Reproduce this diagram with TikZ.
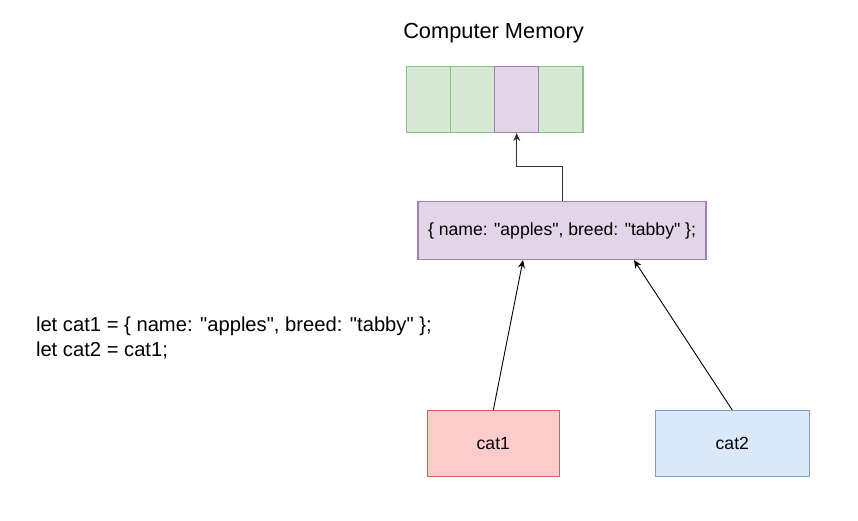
\documentclass[tikz,border=0pt]{standalone}
\usepackage{fontspec}
\setmainfont{Liberation Sans}[Ligatures=TeXOff]
\usepackage{tikz}
\usetikzlibrary{shapes,arrows,arrows.meta,backgrounds}

\definecolor{memgreen}{HTML}{D5E8D4}
\definecolor{memgreenline}{HTML}{82C87F}
\definecolor{objpurple}{HTML}{E1D5E7}
\definecolor{objpurpleline}{HTML}{A67DB8}
\definecolor{catred}{HTML}{FDCBCA}
\definecolor{catredline}{HTML}{CF6360}
\definecolor{catblue}{HTML}{DAE8FC}
\definecolor{catblueline}{HTML}{7F9CCF}

\tikzset{
  memcell/.style={draw=memgreenline, fill=memgreen, line width=1.2pt, minimum width=44.1pt, minimum height=66pt, inner sep=0pt},
  objbox/.style={draw=objpurpleline, fill=objpurple, line width=1.2pt, minimum width=288pt, minimum height=58pt, font=\fontsize{17.6}{21}\selectfont},
  varbox/.style={line width=1.2pt, minimum height=66pt, font=\fontsize{17.6}{21}\selectfont},
  ptr/.style={-{Stealth[length=8pt,width=7pt]}, line width=0.9pt}
}

\begin{document}
\begin{tikzpicture}[x=1pt, y=-1pt]
\useasboundingbox (0,0) rectangle (858,520);
\node[anchor=base, font=\fontsize{21.8}{26}\selectfont] (title) at (493.5,38.3) {Computer Memory};
% memory cells, purple one last so its border stays on top
\foreach \i in {1,2,4,3}
  \node[memcell] (cell\i) at (406.5+44.1*\i-22.05,99.5) {};
\node[memcell, draw=objpurpleline, fill=objpurple] (cell3) at (406.5+44.1*3-22.05,99.5) {};
\node[objbox] (obj) at (562,230.5) {\{ name: "apples", breed: "tabby" \};};
\node[anchor=base west, align=left, font=\fontsize{20.2}{25}\selectfont] (code) at (32.5,356.7)
  {let cat1 = \{ name: "apples", breed: "tabby" \};\\let cat2 = cat1;};
\node[varbox, draw=catredline, fill=catred, minimum width=132pt] (cat1) at (493.3,443.7) {cat1};
\node[varbox, draw=catblueline, fill=catblue, minimum width=154pt] (cat2) at (732.3,443.7) {cat2};
\draw[ptr, draw=black!80] (obj.north) -- ++(0,-34.5) -| (cell3.south);
\draw[ptr] (cat1.north) -- ([xshift=-39pt]obj.south);
\draw[ptr] (cat2.north) -- ([xshift=72pt]obj.south);
\end{tikzpicture}
\end{document}
